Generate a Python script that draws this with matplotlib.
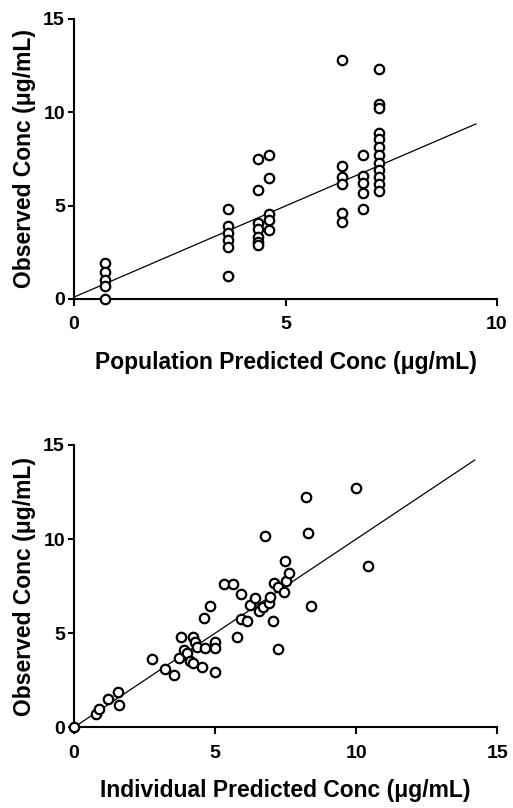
import matplotlib
matplotlib.use("Agg")
import matplotlib.pyplot as plt
import numpy as np

plt.rcParams['font.family'] = ['Liberation Sans', 'DejaVu Sans']
plt.rcParams['font.weight'] = 'bold'

# --- Top panel: population predicted vs observed ---
pop_pred = ([0.74]*5 + [3.64]*6 + [4.36]*7 + [4.62]*5 + [6.33]*6 + [6.83]*5 + [7.22]*12)
pop_obs = [1.91, 1.45, 1.02, 0.70, 0.0,
           4.80, 3.90, 3.51, 3.16, 2.77, 1.23,
           7.47, 5.83, 4.08, 3.73, 3.33, 3.06, 2.89,
           7.68, 6.49, 4.55, 4.22, 3.69,
           12.78, 7.11, 6.51, 6.15, 4.58, 4.13,
           7.70, 6.58, 6.19, 5.68, 4.80,
           12.28, 10.43, 10.20, 8.86, 8.54, 8.14, 7.70, 7.26, 6.90, 6.51, 6.15, 5.79]
pop_fit = [0.1, 0.975]      # intercept, slope
pop_fit_range = [0.0, 9.5]

# --- Bottom panel: individual predicted vs observed ---
ind_pred = [0.0, 0.78, 0.90, 1.20, 1.55, 1.61, 2.76, 3.23, 3.54, 3.72, 3.78, 3.90,
            4.02, 4.11, 4.22, 4.22, 4.29, 4.35, 4.55, 4.61, 4.63, 4.81, 4.98, 4.98,
            5.00, 5.32, 5.64, 5.78, 5.91, 5.91, 6.13, 6.24, 6.41, 6.56, 6.71, 6.77,
            6.90, 6.95, 7.04, 7.07, 7.22, 7.24, 7.45, 7.48, 7.51, 7.63, 8.22, 8.28,
            8.40, 10.0, 10.41]
ind_obs = [0.0, 0.71, 0.99, 1.52, 1.89, 1.19, 3.65, 3.12, 2.76, 3.70, 4.80, 4.11,
           3.93, 3.50, 3.40, 4.78, 4.51, 4.25, 3.19, 5.79, 4.19, 6.46, 4.51, 4.23,
           2.96, 7.61, 7.59, 4.78, 7.08, 5.75, 5.66, 6.50, 6.88, 6.18, 6.41, 10.16,
           6.58, 6.90, 5.66, 7.68, 7.47, 4.14, 7.20, 8.83, 7.77, 8.18, 12.23, 10.34,
           6.46, 12.73, 8.57]
ind_fit = [0.0, 1.0]
ind_fit_range = [0.0, 14.2]

ylabel = "Observed Conc (\u03bcg/mL)"
xlabel_top = "Population Predicted Conc (\u03bcg/mL)"
xlabel_bot = "Individual Predicted Conc (\u03bcg/mL)"

fig = plt.figure(figsize=(5.13, 8.08), dpi=100)
ax1 = fig.add_axes([0.1443, 0.630, 0.8245, 0.347])
ax2 = fig.add_axes([0.1443, 0.0999, 0.8251, 0.3494])

def style(ax, xmax, xticks, xlabel):
    ax.set_xlim(0, xmax)
    ax.set_ylim(0, 15)
    ax.set_xticks(xticks)
    ax.set_yticks([0, 5, 10, 15])
    for s in ['top', 'right']:
        ax.spines[s].set_visible(False)
    for s in ['left', 'bottom']:
        ax.spines[s].set_linewidth(1.5)
    ax.tick_params(direction='out', width=1.5, labelsize=14)
    ax.tick_params(axis='y', length=4, pad=2.5)
    ax.tick_params(axis='x', length=5, pad=7.5)
    for lab in ax.get_xticklabels() + ax.get_yticklabels():
        lab.set_fontweight('bold')
    ax.set_ylabel(ylabel, fontsize=16.5, fontweight='bold', labelpad=5)
    ax.set_xlabel(xlabel, fontsize=16.5, fontweight='bold', labelpad=12.5)

def draw(ax, x, y, fit, rng):
    xs = np.array(rng)
    ax.plot(xs, fit[0] + fit[1]*xs, color='black', lw=0.9, zorder=2)
    ax.plot(x, y, linestyle='none', marker='o', markersize=6.8,
            markerfacecolor='white', markeredgecolor='black',
            markeredgewidth=1.6, clip_on=False, zorder=3)

draw(ax1, pop_pred, pop_obs, pop_fit, pop_fit_range)
style(ax1, 10, [0, 5, 10], xlabel_top)
draw(ax2, ind_pred, ind_obs, ind_fit, ind_fit_range)
style(ax2, 15, [0, 5, 10, 15], xlabel_bot)

fig.savefig("out.png", dpi=100)
